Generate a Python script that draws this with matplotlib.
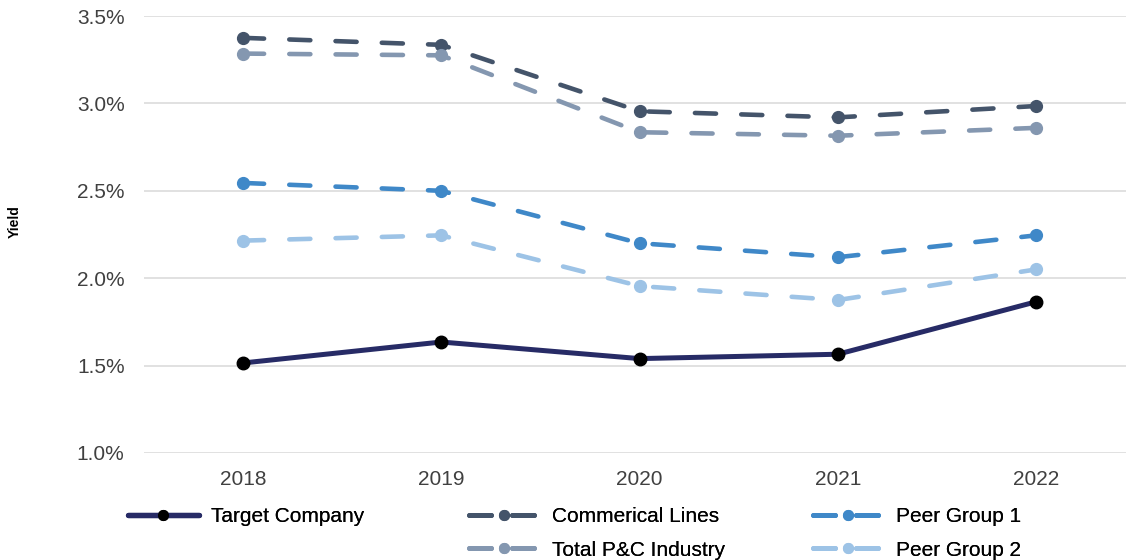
import matplotlib
matplotlib.use("Agg")
import matplotlib.pyplot as plt
from matplotlib.lines import Line2D
from matplotlib import font_manager

# ── data ────────────────────────────────────────────────────────────────
years = ['2018', '2019', '2020', '2021', '2022']
target_company = [1.515, 1.635, 1.54, 1.565, 1.865]
commercial_lines = [3.375, 3.335, 2.955, 2.92, 2.985]
total_pc = [3.285, 3.275, 2.835, 2.815, 2.86]
peer_group_1 = [2.545, 2.50, 2.20, 2.12, 2.245]
peer_group_2 = [2.215, 2.245, 1.955, 1.875, 2.05]
y_ticks = [1.0, 1.5, 2.0, 2.5, 3.0, 3.5]

names = {f.name for f in font_manager.fontManager.ttflist}
tick_font = 'Liberation Sans' if 'Liberation Sans' in names else 'DejaVu Sans'
legend_font = 'Liberation Sans Narrow' if 'Liberation Sans Narrow' in names else tick_font

NAVY = '#272b66'
C_COMM = '#44546a'
C_PC = '#8497b0'
C_P1 = '#3f88c8'
C_P2 = '#9dc3e6'

fig = plt.figure(figsize=(11.26, 5.6), dpi=100)
ax = fig.add_axes([144 / 1126, 1 - 453 / 560, 982 / 1126, 437 / 560])

x = list(range(len(years)))
dash = (4.6, 5.5)

ax.plot(x, target_company, color=NAVY, lw=3.6, marker='o', ms=9,
        mfc='black', mec='black', solid_capstyle='round', zorder=5, clip_on=False)

for vals, col in [(commercial_lines, C_COMM), (total_pc, C_PC),
                  (peer_group_1, C_P1), (peer_group_2, C_P2)]:
    ln, = ax.plot(x, vals, color=col, lw=3.3, marker='o', ms=8.5, mfc=col, mec=col,
                  dash_capstyle='round', zorder=4, clip_on=False)
    ln.set_dashes(dash)

ax.set_xlim(-0.4994, 4.454)
ax.set_ylim(1.0, 3.5)
ax.set_yticks(y_ticks)
ax.set_yticklabels([f'{v:.1f}%' for v in y_ticks])
ax.set_xticks(x)
ax.set_xticklabels(years)
ax.grid(axis='y', color='#d9d9d9', lw=1.1)
ax.set_axisbelow(True)
for s in ax.spines.values():
    s.set_visible(False)
ax.tick_params(axis='y', length=0, pad=14, labelsize=15, labelcolor='#404040')
ax.tick_params(axis='x', length=0, pad=12, labelsize=15, labelcolor='#404040')
for lbl in ax.get_xticklabels() + ax.get_yticklabels():
    lbl.set_fontfamily(tick_font)

fig.text(15 / 1126, 1 - 222 / 560, 'Yield', rotation=90, ha='center', va='center',
         fontsize=10, fontweight='bold', family=tick_font)


# legend: three separate blocks placed along the bottom
def proxy(col, mfc, lw, dashed):
    h = Line2D([], [], color=col, lw=lw, marker='o', ms=7, mfc=mfc, mec=mfc,
               dash_capstyle='round', solid_capstyle='round')
    if dashed:
        h.set_dashes((4.4, 4.2))
    return h


leg_kw = dict(loc='upper left', frameon=False, borderpad=0, borderaxespad=0,
              handlelength=3.4, handletextpad=0.58, labelspacing=0.7,
              prop={'family': legend_font, 'size': 15})

top = 507
blocks = [
    (128, [proxy(NAVY, 'black', 3.8, False)], ['Target Company']),
    (469, [proxy(C_COMM, C_COMM, 3.6, True), proxy(C_PC, C_PC, 3.6, True)],
     ['Commerical Lines', 'Total P&C Industry']),
    (813, [proxy(C_P1, C_P1, 3.6, True), proxy(C_P2, C_P2, 3.6, True)],
     ['Peer Group 1', 'Peer Group 2']),
]
for px, hs, ls in blocks:
    leg = fig.legend(hs, ls, bbox_to_anchor=(px / 1126, 1 - top / 560), **leg_kw)
    fig.add_artist(leg)

fig.savefig('out.png', dpi=100)
